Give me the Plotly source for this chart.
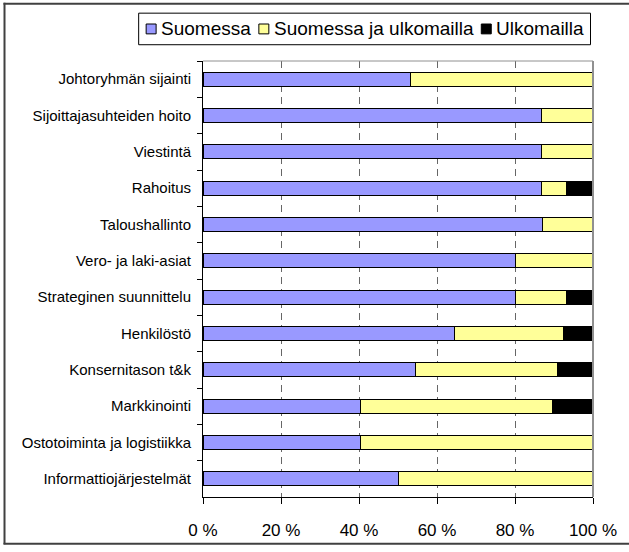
import plotly.graph_objects as go

categories = ["Johtoryhmän sijainti", "Sijoittajasuhteiden hoito", "Viestintä", "Rahoitus",
              "Taloushallinto", "Vero- ja laki-asiat", "Strateginen suunnittelu", "Henkilöstö",
              "Konsernitason t&k", "Markkinointi", "Ostotoiminta ja logistiikka", "Informattiojärjestelmät"]
suomessa = [53.3, 86.7, 86.7, 86.7, 87.0, 80.0, 80.0, 64.5, 54.5, 40.4, 40.4, 50.0]
suomessa_ja_ulkomailla = [46.7, 13.3, 13.3, 6.6, 13.0, 20.0, 13.3, 28.0, 36.4, 49.2, 59.6, 50.0]
ulkomailla = [0, 0, 0, 6.7, 0, 0, 6.7, 7.5, 9.1, 10.4, 0, 0]
series_names = ["Suomessa", "Suomessa ja ulkomailla", "Ulkomailla"]
series_colors = ["#9999FF", "#FFFF99", "#000000"]
tick_vals = [0, 20, 40, 60, 80, 100]
tick_text = ["0 %", "20 %", "40 %", "60 %", "80 %", "100 %"]

W, H = 629, 552
L, R, T, B = 203, 594, 61, 503

def px(x):
    return (x - L) / (R - L)

def py(y):
    return (B - y) / (B - T)

fig = go.Figure()
for name, vals, col in zip(series_names, [suomessa, suomessa_ja_ulkomailla, ulkomailla], series_colors):
    fig.add_trace(go.Bar(y=categories, x=vals, name=name, orientation="h", showlegend=False,
                         marker=dict(color=col, line=dict(color="#000000", width=1))))

shapes = [
    dict(type="line", xref="paper", yref="paper", x0=1, x1=1, y0=0, y1=1,
         line=dict(color="#909090", width=2)),
    dict(type="line", xref="paper", yref="paper", x0=0, x1=1, y0=1, y1=1,
         line=dict(color="#909090", width=1)),
    dict(type="line", xref="paper", yref="paper", x0=px(4), x1=px(4), y0=py(2), y1=py(551),
         line=dict(color="#404040", width=2)),
    dict(type="line", xref="paper", yref="paper", x0=px(3), x1=px(640), y0=py(3), y1=py(3),
         line=dict(color="#404040", width=2)),
    dict(type="line", xref="paper", yref="paper", x0=px(3), x1=px(640), y0=py(550.5), y1=py(550.5),
         line=dict(color="#404040", width=2)),
    # legend box
    dict(type="rect", xref="paper", yref="paper", x0=px(138.5), x1=px(591.5), y0=py(12.5), y1=py(44.5),
         line=dict(color="#000000", width=1), fillcolor="white"),
]
annotations = []
legend_sq_x = [146, 259, 482]
legend_txt_x = [159, 272, 495]
for name, col, sx, tx in zip(series_names, series_colors, legend_sq_x, legend_txt_x):
    shapes.append(dict(type="rect", xref="paper", yref="paper", x0=px(sx), x1=px(sx + 10),
                       y0=py(23.5), y1=py(33.5), line=dict(color="#000000", width=1), fillcolor=col))
    annotations.append(dict(xref="paper", yref="paper", x=px(tx), y=py(28.5), text=name,
                            showarrow=False, xanchor="left", yanchor="middle",
                            font=dict(size=19, color="#000000")))

fig.update_layout(
    width=W, height=H,
    margin=dict(l=L, r=W - R, t=T, b=H - B, pad=0),
    barmode="stack", bargap=0.61,
    plot_bgcolor="white", paper_bgcolor="white",
    font=dict(family="Liberation Sans, Arial, sans-serif", color="#000000"),
    showlegend=False,
    xaxis=dict(range=[0, 100], tickmode="array", tickvals=tick_vals, ticktext=tick_text,
               tickfont=dict(size=17), showline=True, linecolor="#000000", linewidth=1,
               ticks="outside", ticklen=6, tickcolor="#000000", ticklabelstandoff=12,
               showgrid=True, gridcolor="#666666", gridwidth=1, griddash="7px,5px",
               zeroline=False, fixedrange=True),
    yaxis=dict(autorange="reversed", tickfont=dict(size=15), showline=True,
               linecolor="#000000", linewidth=1, ticks="outside", ticklen=5,
               tickcolor="#000000", tickson="boundaries", ticklabelstandoff=8,
               showgrid=False, fixedrange=True),
    shapes=shapes,
    annotations=annotations,
)

fig.write_html("out.html", config={"displayModeBar": False},
               post_script="document.body.style.margin='0';document.body.style.overflow='hidden';")
